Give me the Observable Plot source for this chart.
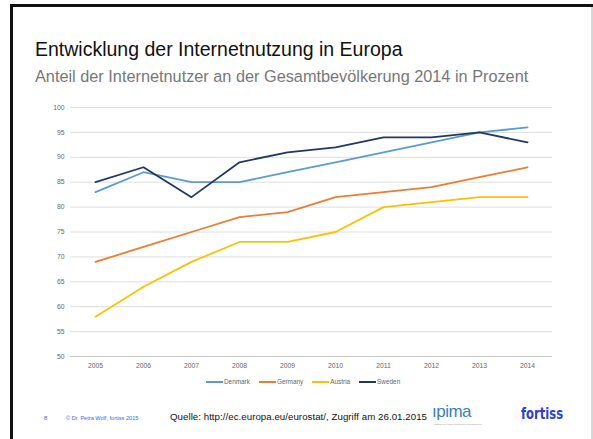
<!DOCTYPE html>
<html>
<head>
<meta charset="utf-8">
<script src="https://cdn.jsdelivr.net/npm/d3@7"></script>
<script src="https://cdn.jsdelivr.net/npm/@observablehq/plot@0.6"></script>
<style>
  html, body { margin: 0; padding: 0; background: #fff; }
  #slide { position: relative; width: 593px; height: 439px; overflow: hidden; font-family: "Liberation Sans", Arial, sans-serif; background: #fff; }
  #bl { position: absolute; left: 10px; top: 4px; width: 3px; height: 435px; background: #111; }
  #bt { position: absolute; left: 10px; top: 4px; width: 583px; height: 3px; background: #111; }
  #br { position: absolute; left: 591px; top: 7px; width: 2px; height: 432px; background: #d6d6d6; }
  #title { position: absolute; left: 35px; top: 38px; font-size: 19.5px; color: #111; white-space: nowrap; }
  #subtitle { position: absolute; left: 35px; top: 67px; font-size: 16.3px; color: #777; white-space: nowrap; }
  #chart { position: absolute; left: 0; top: 95px; }
  #legend { position: absolute; left: 206px; top: 378px; display: flex; gap: 9px; font-family: "Liberation Sans", Arial, sans-serif; font-size: 6.4px; color: #666; }
  #legend .item { display: flex; align-items: center; }
  #legend .sw { width: 17px; height: 2px; margin-right: 1px; }
  .foot { position: absolute; white-space: nowrap; }
</style>
</head>
<body>
<div id="slide">
  <div id="bl"></div><div id="bt"></div><div id="br"></div>
  <div id="title">Entwicklung der Internetnutzung in Europa</div>
  <div id="subtitle">Anteil der Internetnutzer an der Gesamtbevölkerung 2014 in Prozent</div>
  <div id="chart"></div>
  <div id="legend"></div>
  <div class="foot" style="left:44px; top:415px; font-size:6px; color:#4466dd;">8</div>
  <div class="foot" style="left:66px; top:415px; font-size:5.6px; color:#4466dd;">© Dr. Petra Wolf, fortiss 2015</div>
  <div class="foot" id="quelle" style="left:170px; top:411px; font-size:9.7px; color:#111;">Quelle: http://ec.europa.eu/eurostat/, Zugriff am 26.01.2015</div>
  <div class="foot" style="left:432px; top:402px; font-size:17px; color:#3a7fb8; letter-spacing:-0.5px;">ıpima</div>
  <div class="foot" style="left:434px; top:423px; font-size:2.5px; color:#999;">institute for public information management</div>
  <div class="foot" style="left:521px; top:405px; font-size:15px; font-weight:bold; color:#2a3fd0; font-family:'DejaVu Sans Condensed','Liberation Sans Narrow',sans-serif; transform-origin:left top; transform:scaleX(0.86);">fortiss</div>
</div>
<script>
const years = [2005, 2006, 2007, 2008, 2009, 2010, 2011, 2012, 2013, 2014];
const countries = ["Denmark", "Germany", "Austria", "Sweden"];
const colors = ["#5b9bd5", "#ed7d31", "#ffc000", "#1f3864"];
const denmark = [83, 87, 85, 85, 87, 89, 91, 93, 95, 96];
const germany = [69, 72, 75, 78, 79, 82, 83, 84, 86, 88];
const austria = [58, 64, 69, 73, 73, 75, 80, 81, 82, 82];
const sweden  = [85, 88, 82, 89, 91, 92, 94, 94, 95, 93];
const yTicks = [50, 55, 60, 65, 70, 75, 80, 85, 90, 95, 100];

const series = [denmark, germany, austria, sweden];
const data = [];
countries.forEach((c, i) => years.forEach((y, j) => data.push({country: c, year: y, value: series[i][j]})));

const chart = Plot.plot({
  width: 593,
  height: 300,
  marginLeft: 70,
  marginRight: 41,
  marginTop: 12,
  marginBottom: 39,
  style: {fontFamily: "'Liberation Sans', Arial, sans-serif", background: "transparent"},
  x: {type: "point", domain: years, padding: 0.5, label: null},
  y: {domain: [50, 100], label: null},
  color: {domain: countries, range: colors},
  marks: [
    Plot.ruleY(yTicks.filter(d => d > 50), {stroke: "#dedede", strokeWidth: 1}),
    Plot.ruleY([50], {stroke: "#c8c8c8", strokeWidth: 1}),
    Plot.axisY(yTicks, {tickSize: 0, tickPadding: 6, fontSize: 6.8, color: "#666", label: null}),
    Plot.axisX(years, {tickSize: 0, tickPadding: 7, fontSize: 6.8, color: "#666", label: null, tickFormat: d => String(d)}),
    Plot.lineY(data, {x: "year", y: "value", z: "country", stroke: "country", strokeWidth: 1.8})
  ]
});
document.getElementById("chart").appendChild(chart);

const legend = document.getElementById("legend");
countries.forEach((c, i) => {
  const it = document.createElement("div");
  it.className = "item";
  it.innerHTML = `<span class="sw" style="background:${colors[i]}"></span><span>${c}</span>`;
  legend.appendChild(it);
});

function fitWidth(id, target) {
  const el = document.getElementById(id);
  const w = el.getBoundingClientRect().width;
  const n = el.textContent.length;
  el.style.letterSpacing = ((target - w) / n) + "px";
}
fitWidth("quelle", 257);
</script>
</body>
</html>
